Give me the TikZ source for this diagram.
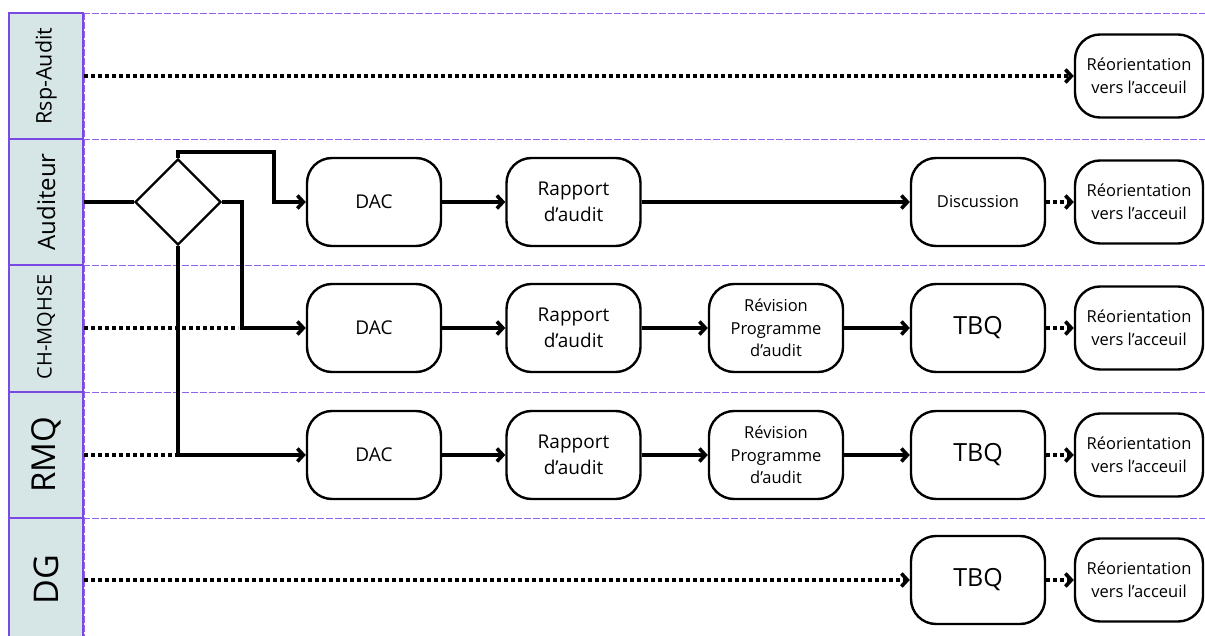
\documentclass[tikz,border=0pt]{standalone}
\usepackage{fontspec}
\setmainfont{Open Sans}
\usetikzlibrary{arrows.meta,shapes.geometric}
\definecolor{lanepurple}{HTML}{7B48E6}
\definecolor{headfill}{HTML}{D6E5E5}
\tikzset{
  box/.style={draw=black, line width=2.4pt, rounded corners=25pt, fill=white,
    minimum width=134pt, minimum height=88pt, align=center, inner sep=2pt,
    font=\fontsize{19}{26}\selectfont},
  smallbox/.style={box, font=\fontsize{16.5}{22.5}\selectfont},
  bigbox/.style={box, font=\fontsize{25}{30}\selectfont},
  reobox/.style={box, minimum width=128pt, minimum height=83pt, font=\fontsize{16.5}{23}\selectfont},
  flow/.style={line width=3.8pt, -{Straight Barb[length=6pt,width=13pt,line width=3.6pt]}},
  plain/.style={line width=3.8pt},
  dots/.style={line width=4pt, dash pattern=on 4pt off 3pt},
  dotflow/.style={dots, -{Straight Barb[length=6pt,width=13pt,line width=3.6pt]}},
  lanesep/.style={draw=lanepurple!85, line width=0.8pt, dash pattern=on 7pt off 2pt},
  header/.style={draw=lanepurple, line width=1.5pt, fill=headfill},
  headtext/.style={rotate=90, anchor=center, inner sep=0pt},
}
\begin{document}
\begin{tikzpicture}[x=1pt,y=-1pt]
\useasboundingbox (0,0) rectangle (1205,636);
\clip (0,0) rectangle (1205,636);
\fill[white] (0,0) rectangle (1205,636);
% lane separators
\foreach \yy in {13,139,265,392,518}{
  \draw[lanesep] (83,\yy) -- (1205,\yy);
}
\draw[lanesep] (84,13) -- (84,640);
% headers
\draw[header] (9,13) rectangle (83,139);
\draw[header] (9,139) rectangle (83,265);
\draw[header] (9,265) rectangle (83,392);
\draw[header] (9,392) rectangle (83,518);
\draw[header] (9,518) rectangle (83,645);
\node[headtext, font=\fontsize{21.5}{24}\selectfont] (hA) at (46,76) {Rsp-Audit};
\node[headtext, font=\fontsize{24}{26}\selectfont] (hB) at (46,202) {Auditeur};
\node[headtext, font=\fontsize{20}{22}\selectfont] (hC) at (46,327) {CH-MQHSE};
\node[headtext, font=\fontsize{33}{36}\selectfont] (hD) at (46,455) {RMQ};
\node[headtext, font=\fontsize{34}{36}\selectfont] (hE) at (46,580) {DG};

% lane start coordinates
\coordinate (sA) at (84,76);
\coordinate (sB) at (84,202);
\coordinate (sC) at (84,328);
\coordinate (sD) at (84,455);
\coordinate (sE) at (84,580);

% diamond
\node[diamond, draw, line width=2.4pt, fill=white, minimum width=86pt, minimum height=86pt, inner sep=0pt] (dia) at (178,202) {};

% Rsp-Audit
\node[reobox] (reoA) at (1139,76) {Réorientation\\vers l’acceuil};

% Auditeur
\node[box] (dacB) at (374,202) {DAC};
\node[box] (rapB) at (573.5,202) {Rapport\\d’audit};
\node[smallbox] (disB) at (978,202) {Discussion};
\node[reobox] (reoB) at (1139,202) {Réorientation\\vers l’acceuil};

% CH-MQHSE
\node[box] (dacC) at (374,328) {DAC};
\node[box] (rapC) at (573.5,328) {Rapport\\d’audit};
\node[smallbox] (revC) at (776,328) {Révision\\Programme\\d’audit};
\node[bigbox] (tbqC) at (978,328) {TBQ};
\node[reobox] (reoC) at (1139,328) {Réorientation\\vers l’acceuil};

% RMQ
\node[box] (dacD) at (374,455) {DAC};
\node[box] (rapD) at (573.5,455) {Rapport\\d’audit};
\node[smallbox] (revD) at (776,455) {Révision\\Programme\\d’audit};
\node[bigbox] (tbqD) at (978,455) {TBQ};
\node[reobox] (reoD) at (1139,455) {Réorientation\\vers l’acceuil};

% DG
\node[bigbox] (tbqE) at (978,580) {TBQ};
\node[reobox] (reoE) at (1139,580) {Réorientation\\vers l’acceuil};

% junction coordinates
\coordinate (tTop) at (274,152);
\coordinate (rJ) at (242,328);
\coordinate (eC) at (238,328);
\coordinate (eD) at (178,455);

% dotted lane entries
\draw[dotflow] (sA) -- (reoA.west);
\draw[dots] (sC) -- (eC);
\draw[dots] (sD) -- (eD);
\draw[dotflow] (sE) -- (tbqE.west);

% diamond connectors
\draw[plain] (sB) -- (dia.west);
\draw[flow] (dia.north) |- (tTop) |- (dacB.west);
\draw[flow] (dia.east) -| (rJ) -- (dacC.west);
\draw[flow] (dia.south) |- (dacD.west);

% Auditeur flow
\draw[flow] (dacB) -- (rapB);
\draw[flow] (rapB) -- (disB);
\draw[dotflow] (disB) -- (reoB);

% CH-MQHSE flow
\draw[flow] (dacC) -- (rapC);
\draw[flow] (rapC) -- (revC);
\draw[flow] (revC) -- (tbqC);
\draw[dotflow] (tbqC) -- (reoC);

% RMQ flow
\draw[flow] (dacD) -- (rapD);
\draw[flow] (rapD) -- (revD);
\draw[flow] (revD) -- (tbqD);
\draw[dotflow] (tbqD) -- (reoD);

% DG flow
\draw[dotflow] (tbqE) -- (reoE);
\end{tikzpicture}
\end{document}
